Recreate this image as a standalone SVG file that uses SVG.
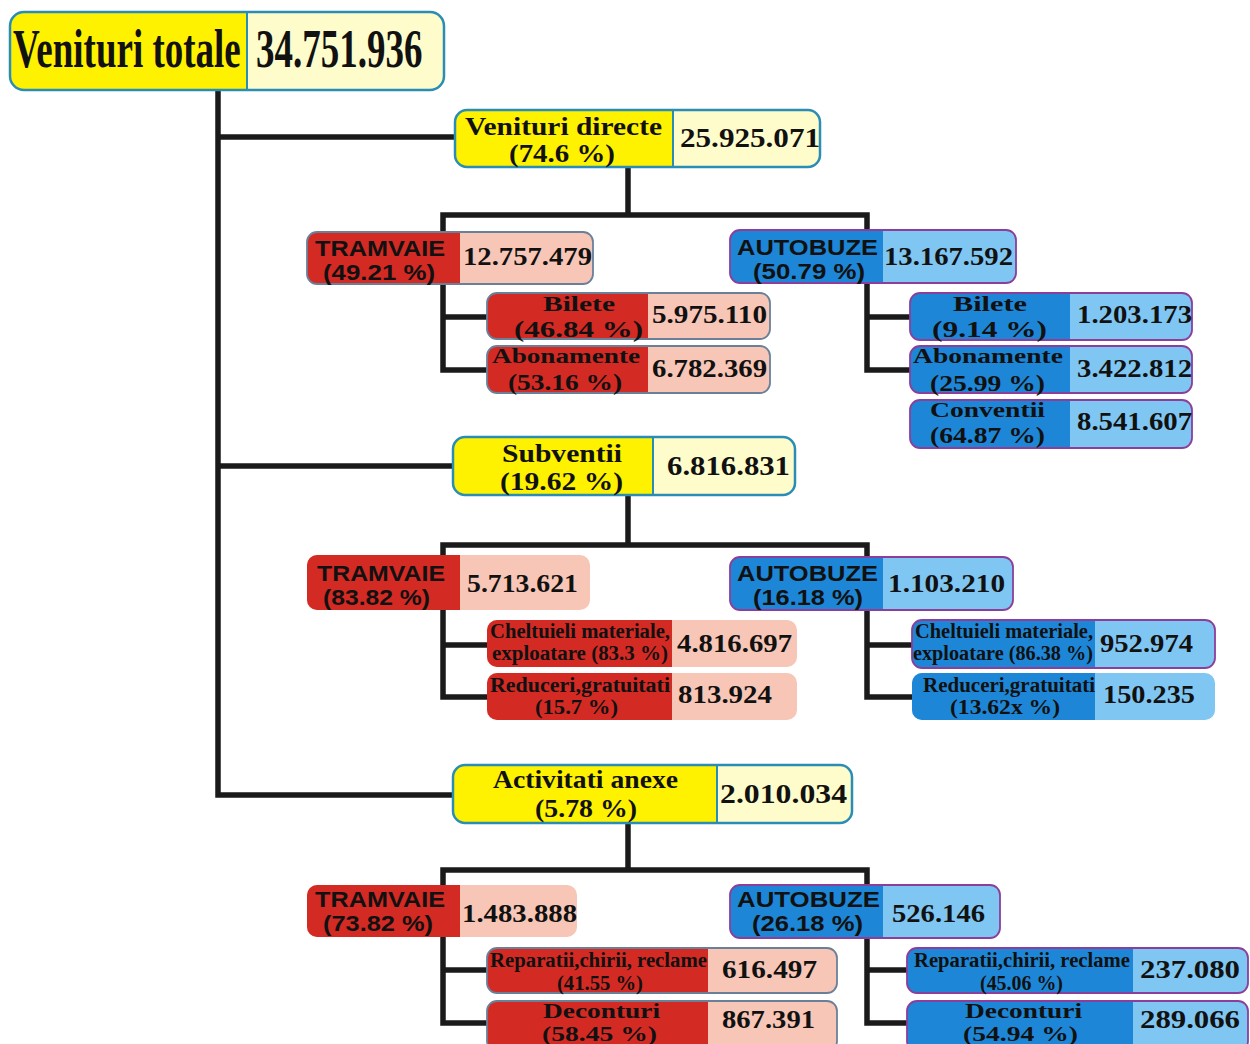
<svg xmlns="http://www.w3.org/2000/svg" width="1250" height="1044" viewBox="0 0 1250 1044">
<style>
.bg{fill:#ffffff}
.yl{fill:#FFF200}.yr{fill:#FFFCCB}.yb{fill:none;stroke:#2A8DB5;stroke-width:2.5}
.rl{fill:#D42A24}.rr{fill:#F7C6B6}.rb{fill:none;stroke:#6A8099;stroke-width:1.8}
.bl{fill:#1E86D6}.br{fill:#80C6F2}.bb{fill:none;stroke:#8B3F9B;stroke-width:1.8}
.dv{stroke:#2A8DB5;stroke-width:2}
.s{font-family:"Liberation Serif","Times New Roman",serif;font-weight:bold;fill:#111}
.a{font-family:"Liberation Sans",Arial,sans-serif;font-weight:bold;fill:#111;font-size:22px}
.c{fill:none;stroke:#1a1a1a;stroke-width:5.5;stroke-linejoin:miter}
</style>
<rect class="bg" x="0" y="0" width="1250" height="1044"/>
<g id="connectors">
<path class="c" d="M218,90 V795 H453"/>
<path class="c" d="M218,137 H455"/>
<path class="c" d="M218,466 H453"/>
<path class="c" d="M628,167 V215"/>
<path class="c" d="M487,370 H443 V215 H867 V370 H910"/>
<path class="c" d="M443,317 H487"/>
<path class="c" d="M867,317 H910"/>
<path class="c" d="M628,495 V545"/>
<path class="c" d="M487,697 H443 V545 H867 V697 H912"/>
<path class="c" d="M443,645 H487"/>
<path class="c" d="M867,645 H912"/>
<path class="c" d="M628,823 V870"/>
<path class="c" d="M487,1023 H443 V870 H867 V1023 H907"/>
<path class="c" d="M443,970 H487"/>
<path class="c" d="M867,970 H907"/>
</g>
<g id="total">
<rect class="yr" x="10" y="12" width="434" height="78" rx="14"/>
<path class="yl" d="M24,12 H247 V90 H24 A14,14 0 0 1 10,76 V26 A14,14 0 0 1 24,12 Z"/>
<line class="dv" x1="247" y1="12" x2="247" y2="90"/>
<rect class="yb" x="10" y="12" width="434" height="78" rx="14"/>
<text class="s" font-size="37" transform="translate(13,67) scale(1,1.5)" x="0" y="0">Venituri totale</text>
<text class="s" font-size="37" transform="translate(256,67) scale(1,1.5)" x="0" y="0">34.751.936</text>
</g>
<g id="directe">
<rect class="yr" x="455" y="110" width="365" height="57" rx="12"/>
<path class="yl" d="M467,110 H673 V167 H467 A12,12 0 0 1 455,155 V122 A12,12 0 0 1 467,110 Z"/>
<line class="dv" x1="673" y1="110" x2="673" y2="167"/>
<rect class="yb" x="455" y="110" width="365" height="57" rx="12"/>
<text class="s" font-size="25" x="465" y="135" textLength="197" lengthAdjust="spacingAndGlyphs">Venituri directe</text>
<text class="s" font-size="25" x="509" y="162" textLength="106" lengthAdjust="spacingAndGlyphs">(74.6 %)</text>
<text class="s" font-size="27" x="680" y="147" textLength="140" lengthAdjust="spacingAndGlyphs">25.925.071</text>
</g>
<g id="tram1">
<rect class="rr" x="307" y="232" width="286" height="52" rx="10"/>
<path class="rl" d="M317,232 H460 V284 H317 A10,10 0 0 1 307,274 V242 A10,10 0 0 1 317,232 Z"/>
<rect class="rb" x="307" y="232" width="286" height="52" rx="10"/>
<text class="a" x="315" y="256" textLength="130" lengthAdjust="spacingAndGlyphs">TRAMVAIE</text>
<text class="a" x="323" y="280" textLength="112" lengthAdjust="spacingAndGlyphs">(49.21 %)</text>
<text class="s" font-size="26" x="463" y="265" textLength="129" lengthAdjust="spacingAndGlyphs">12.757.479</text>
</g>
<g id="auto1">
<rect class="br" x="730" y="230" width="286" height="53" rx="10"/>
<path class="bl" d="M740,230 H883 V283 H740 A10,10 0 0 1 730,273 V240 A10,10 0 0 1 740,230 Z"/>
<rect class="bb" x="730" y="230" width="286" height="53" rx="10"/>
<text class="a" x="737" y="255" textLength="141" lengthAdjust="spacingAndGlyphs">AUTOBUZE</text>
<text class="a" x="753" y="279" textLength="112" lengthAdjust="spacingAndGlyphs">(50.79 %)</text>
<text class="s" font-size="26" x="884" y="265" textLength="129" lengthAdjust="spacingAndGlyphs">13.167.592</text>
</g>
<g id="tram-bilete">
<rect class="rr" x="487" y="293" width="283" height="46" rx="10"/>
<path class="rl" d="M497,293 H648 V339 H497 A10,10 0 0 1 487,329 V303 A10,10 0 0 1 497,293 Z"/>
<rect class="rb" x="487" y="293" width="283" height="46" rx="10"/>
<text class="s" font-size="22" x="543" y="311" textLength="72" lengthAdjust="spacingAndGlyphs">Bilete</text>
<text class="s" font-size="24" x="514" y="337" textLength="129" lengthAdjust="spacingAndGlyphs">(46.84 %)</text>
<text class="s" font-size="26" x="652" y="323" textLength="115" lengthAdjust="spacingAndGlyphs">5.975.110</text>
</g>
<g id="tram-abonamente">
<rect class="rr" x="487" y="346" width="283" height="47" rx="10"/>
<path class="rl" d="M497,346 H648 V393 H497 A10,10 0 0 1 487,383 V356 A10,10 0 0 1 497,346 Z"/>
<rect class="rb" x="487" y="346" width="283" height="47" rx="10"/>
<text class="s" font-size="22" x="492" y="363" textLength="148" lengthAdjust="spacingAndGlyphs">Abonamente</text>
<text class="s" font-size="24" x="508" y="390" textLength="114" lengthAdjust="spacingAndGlyphs">(53.16 %)</text>
<text class="s" font-size="26" x="652" y="377" textLength="115" lengthAdjust="spacingAndGlyphs">6.782.369</text>
</g>
<g id="auto-bilete">
<rect class="br" x="910" y="293" width="282" height="47" rx="10"/>
<path class="bl" d="M920,293 H1070 V340 H920 A10,10 0 0 1 910,330 V303 A10,10 0 0 1 920,293 Z"/>
<rect class="bb" x="910" y="293" width="282" height="47" rx="10"/>
<text class="s" font-size="22" x="953" y="311" textLength="74" lengthAdjust="spacingAndGlyphs">Bilete</text>
<text class="s" font-size="24" x="932" y="337" textLength="115" lengthAdjust="spacingAndGlyphs">(9.14 %)</text>
<text class="s" font-size="26" x="1077" y="323" textLength="115" lengthAdjust="spacingAndGlyphs">1.203.173</text>
</g>
<g id="auto-abonamente">
<rect class="br" x="910" y="346" width="282" height="47" rx="10"/>
<path class="bl" d="M920,346 H1070 V393 H920 A10,10 0 0 1 910,383 V356 A10,10 0 0 1 920,346 Z"/>
<rect class="bb" x="910" y="346" width="282" height="47" rx="10"/>
<text class="s" font-size="22" x="913" y="363" textLength="150" lengthAdjust="spacingAndGlyphs">Abonamente</text>
<text class="s" font-size="24" x="930" y="391" textLength="115" lengthAdjust="spacingAndGlyphs">(25.99 %)</text>
<text class="s" font-size="26" x="1077" y="377" textLength="115" lengthAdjust="spacingAndGlyphs">3.422.812</text>
</g>
<g id="auto-conventii">
<rect class="br" x="910" y="400" width="282" height="48" rx="10"/>
<path class="bl" d="M920,400 H1070 V448 H920 A10,10 0 0 1 910,438 V410 A10,10 0 0 1 920,400 Z"/>
<rect class="bb" x="910" y="400" width="282" height="48" rx="10"/>
<text class="s" font-size="22" x="930" y="417" textLength="115" lengthAdjust="spacingAndGlyphs">Conventii</text>
<text class="s" font-size="24" x="930" y="443" textLength="115" lengthAdjust="spacingAndGlyphs">(64.87 %)</text>
<text class="s" font-size="26" x="1077" y="430" textLength="115" lengthAdjust="spacingAndGlyphs">8.541.607</text>
</g>
<g id="subventii">
<rect class="yr" x="453" y="437" width="342" height="58" rx="12"/>
<path class="yl" d="M465,437 H653 V495 H465 A12,12 0 0 1 453,483 V449 A12,12 0 0 1 465,437 Z"/>
<line class="dv" x1="653" y1="437" x2="653" y2="495"/>
<rect class="yb" x="453" y="437" width="342" height="58" rx="12"/>
<text class="s" font-size="26" x="502" y="462" textLength="120" lengthAdjust="spacingAndGlyphs">Subventii</text>
<text class="s" font-size="26" x="500" y="490" textLength="123" lengthAdjust="spacingAndGlyphs">(19.62 %)</text>
<text class="s" font-size="27" x="667" y="475" textLength="123" lengthAdjust="spacingAndGlyphs">6.816.831</text>
</g>
<g id="tram2">
<rect class="rr" x="307" y="555" width="283" height="55" rx="10"/>
<path class="rl" d="M317,555 H460 V610 H317 A10,10 0 0 1 307,600 V565 A10,10 0 0 1 317,555 Z"/>
<text class="a" x="317" y="581" textLength="128" lengthAdjust="spacingAndGlyphs">TRAMVAIE</text>
<text class="a" x="323" y="605" textLength="107" lengthAdjust="spacingAndGlyphs">(83.82 %)</text>
<text class="s" font-size="26" x="467" y="592" textLength="111" lengthAdjust="spacingAndGlyphs">5.713.621</text>
</g>
<g id="tram-cheltuieli">
<rect class="rr" x="487" y="620" width="310" height="47" rx="10"/>
<path class="rl" d="M497,620 H672 V667 H497 A10,10 0 0 1 487,657 V630 A10,10 0 0 1 497,620 Z"/>
<text class="s" font-size="20" x="490" y="638" textLength="180" lengthAdjust="spacingAndGlyphs">Cheltuieli materiale,</text>
<text class="s" font-size="20" x="492" y="660" textLength="176" lengthAdjust="spacingAndGlyphs">exploatare (83.3 %)</text>
<text class="s" font-size="26" x="677" y="652" textLength="115" lengthAdjust="spacingAndGlyphs">4.816.697</text>
</g>
<g id="tram-reduceri">
<rect class="rr" x="487" y="673" width="310" height="47" rx="10"/>
<path class="rl" d="M497,673 H672 V720 H497 A10,10 0 0 1 487,710 V683 A10,10 0 0 1 497,673 Z"/>
<text class="s" font-size="20" x="490" y="692" textLength="180" lengthAdjust="spacingAndGlyphs">Reduceri,gratuitati</text>
<text class="s" font-size="20" x="535" y="714" textLength="83" lengthAdjust="spacingAndGlyphs">(15.7 %)</text>
<text class="s" font-size="26" x="678" y="703" textLength="94" lengthAdjust="spacingAndGlyphs">813.924</text>
</g>
<g id="auto2">
<rect class="br" x="730" y="557" width="283" height="53" rx="10"/>
<path class="bl" d="M740,557 H883 V610 H740 A10,10 0 0 1 730,600 V567 A10,10 0 0 1 740,557 Z"/>
<rect class="bb" x="730" y="557" width="283" height="53" rx="10"/>
<text class="a" x="737" y="581" textLength="141" lengthAdjust="spacingAndGlyphs">AUTOBUZE</text>
<text class="a" x="753" y="605" textLength="110" lengthAdjust="spacingAndGlyphs">(16.18 %)</text>
<text class="s" font-size="26" x="888" y="592" textLength="117" lengthAdjust="spacingAndGlyphs">1.103.210</text>
</g>
<g id="auto-cheltuieli">
<rect class="br" x="912" y="620" width="303" height="48" rx="10"/>
<path class="bl" d="M922,620 H1095 V668 H922 A10,10 0 0 1 912,658 V630 A10,10 0 0 1 922,620 Z"/>
<rect class="bb" x="912" y="620" width="303" height="48" rx="10"/>
<text class="s" font-size="20" x="915" y="638" textLength="178" lengthAdjust="spacingAndGlyphs">Cheltuieli materiale,</text>
<text class="s" font-size="20" x="913" y="660" textLength="180" lengthAdjust="spacingAndGlyphs">exploatare (86.38 %)</text>
<text class="s" font-size="26" x="1100" y="652" textLength="93" lengthAdjust="spacingAndGlyphs">952.974</text>
</g>
<g id="auto-reduceri">
<rect class="br" x="912" y="673" width="303" height="47" rx="10"/>
<path class="bl" d="M922,673 H1095 V720 H922 A10,10 0 0 1 912,710 V683 A10,10 0 0 1 922,673 Z"/>
<text class="s" font-size="20" x="923" y="692" textLength="172" lengthAdjust="spacingAndGlyphs">Reduceri,gratuitati</text>
<text class="s" font-size="20" x="950" y="714" textLength="110" lengthAdjust="spacingAndGlyphs">(13.62x %)</text>
<text class="s" font-size="26" x="1103" y="703" textLength="92" lengthAdjust="spacingAndGlyphs">150.235</text>
</g>
<g id="activitati">
<rect class="yr" x="453" y="765" width="399" height="58" rx="12"/>
<path class="yl" d="M465,765 H717 V823 H465 A12,12 0 0 1 453,811 V777 A12,12 0 0 1 465,765 Z"/>
<line class="dv" x1="717" y1="765" x2="717" y2="823"/>
<rect class="yb" x="453" y="765" width="399" height="58" rx="12"/>
<text class="s" font-size="25" x="493" y="788" textLength="185" lengthAdjust="spacingAndGlyphs">Activitati anexe</text>
<text class="s" font-size="25" x="535" y="817" textLength="102" lengthAdjust="spacingAndGlyphs">(5.78 %)</text>
<text class="s" font-size="27" x="720" y="803" textLength="127" lengthAdjust="spacingAndGlyphs">2.010.034</text>
</g>
<g id="tram3">
<rect class="rr" x="307" y="885" width="270" height="52" rx="10"/>
<path class="rl" d="M317,885 H460 V937 H317 A10,10 0 0 1 307,927 V895 A10,10 0 0 1 317,885 Z"/>
<text class="a" x="315" y="907" textLength="130" lengthAdjust="spacingAndGlyphs">TRAMVAIE</text>
<text class="a" x="323" y="931" textLength="110" lengthAdjust="spacingAndGlyphs">(73.82 %)</text>
<text class="s" font-size="26" x="462" y="922" textLength="115" lengthAdjust="spacingAndGlyphs">1.483.888</text>
</g>
<g id="tram-reparatii">
<rect class="rr" x="487" y="948" width="350" height="45" rx="10"/>
<path class="rl" d="M497,948 H708 V993 H497 A10,10 0 0 1 487,983 V958 A10,10 0 0 1 497,948 Z"/>
<rect class="rb" x="487" y="948" width="350" height="45" rx="10"/>
<text class="s" font-size="20" x="490" y="967" textLength="217" lengthAdjust="spacingAndGlyphs">Reparatii,chirii, reclame</text>
<text class="s" font-size="20" x="557" y="990" textLength="86" lengthAdjust="spacingAndGlyphs">(41.55 %)</text>
<text class="s" font-size="26" x="722" y="978" textLength="95" lengthAdjust="spacingAndGlyphs">616.497</text>
</g>
<g id="tram-deconturi">
<rect class="rr" x="487" y="1001" width="350" height="50" rx="10"/>
<path class="rl" d="M497,1001 H708 V1051 H497 A10,10 0 0 1 487,1041 V1011 A10,10 0 0 1 497,1001 Z"/>
<rect class="rb" x="487" y="1001" width="350" height="50" rx="10"/>
<text class="s" font-size="21" x="543" y="1018" textLength="117" lengthAdjust="spacingAndGlyphs">Deconturi</text>
<text class="s" font-size="21" x="542" y="1041" textLength="115" lengthAdjust="spacingAndGlyphs">(58.45 %)</text>
<text class="s" font-size="26" x="722" y="1028" textLength="93" lengthAdjust="spacingAndGlyphs">867.391</text>
</g>
<g id="auto3">
<rect class="br" x="730" y="885" width="270" height="53" rx="10"/>
<path class="bl" d="M740,885 H883 V938 H740 A10,10 0 0 1 730,928 V895 A10,10 0 0 1 740,885 Z"/>
<rect class="bb" x="730" y="885" width="270" height="53" rx="10"/>
<text class="a" x="737" y="907" textLength="143" lengthAdjust="spacingAndGlyphs">AUTOBUZE</text>
<text class="a" x="752" y="931" textLength="111" lengthAdjust="spacingAndGlyphs">(26.18 %)</text>
<text class="s" font-size="26" x="892" y="922" textLength="93" lengthAdjust="spacingAndGlyphs">526.146</text>
</g>
<g id="auto-reparatii">
<rect class="br" x="907" y="948" width="341" height="45" rx="10"/>
<path class="bl" d="M917,948 H1133 V993 H917 A10,10 0 0 1 907,983 V958 A10,10 0 0 1 917,948 Z"/>
<rect class="bb" x="907" y="948" width="341" height="45" rx="10"/>
<text class="s" font-size="20" x="914" y="967" textLength="216" lengthAdjust="spacingAndGlyphs">Reparatii,chirii, reclame</text>
<text class="s" font-size="20" x="980" y="990" textLength="83" lengthAdjust="spacingAndGlyphs">(45.06 %)</text>
<text class="s" font-size="26" x="1140" y="978" textLength="100" lengthAdjust="spacingAndGlyphs">237.080</text>
</g>
<g id="auto-deconturi">
<rect class="br" x="907" y="1001" width="341" height="50" rx="10"/>
<path class="bl" d="M917,1001 H1133 V1051 H917 A10,10 0 0 1 907,1041 V1011 A10,10 0 0 1 917,1001 Z"/>
<rect class="bb" x="907" y="1001" width="341" height="50" rx="10"/>
<text class="s" font-size="21" x="965" y="1018" textLength="117" lengthAdjust="spacingAndGlyphs">Deconturi</text>
<text class="s" font-size="21" x="963" y="1041" textLength="115" lengthAdjust="spacingAndGlyphs">(54.94 %)</text>
<text class="s" font-size="26" x="1140" y="1028" textLength="100" lengthAdjust="spacingAndGlyphs">289.066</text>
</g>
</svg>
